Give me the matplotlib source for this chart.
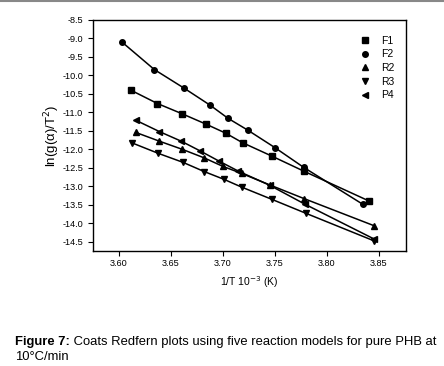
import matplotlib
matplotlib.use('Agg')
import matplotlib.pyplot as plt

plt.rcParams['font.family'] = ['Liberation Sans', 'DejaVu Sans']
plt.rcParams['axes.unicode_minus'] = False

# dados
x_f1 = [3.6115, 3.637, 3.661, 3.684, 3.7026, 3.719, 3.747, 3.778, 3.841]
y_f1 = [-10.40, -10.76, -11.04, -11.32, -11.56, -11.82, -12.18, -12.59, -13.40]

x_f2 = [3.603, 3.634, 3.663, 3.688, 3.705, 3.724, 3.750, 3.778, 3.835]
y_f2 = [-9.10, -9.84, -10.35, -10.81, -11.16, -11.48, -11.95, -12.49, -13.49]

x_r2 = [3.616, 3.639, 3.661, 3.682, 3.700, 3.718, 3.745, 3.778, 3.846]
y_r2 = [-11.54, -11.78, -12.00, -12.23, -12.46, -12.65, -12.96, -13.33, -14.07]

x_r3 = [3.613, 3.638, 3.6615, 3.682, 3.701, 3.718, 3.747, 3.780, 3.846]
y_r3 = [-11.83, -12.11, -12.35, -12.60, -12.81, -13.02, -13.35, -13.73, -14.48]

x_p4 = [3.616, 3.639, 3.660, 3.678, 3.6965, 3.715, 3.745, 3.7795, 3.846]
y_p4 = [-11.21, -11.52, -11.78, -12.04, -12.32, -12.59, -12.97, -13.49, -14.43]

series = [('F1', 's', x_f1, y_f1), ('F2', 'o', x_f2, y_f2), ('R2', '^', x_r2, y_r2),
          ('R3', 'v', x_r3, y_r3), ('P4', '<', x_p4, y_p4)]

fig = plt.figure(figsize=(4.44, 3.66), dpi=100)
ax = fig.add_axes([0.2095, 0.3142, 0.704, 0.6312])

for nome, m, xs, ys in series:
    ax.plot(xs, ys, color='black', lw=1.1)
    ax.plot(xs, ys, ls='none', marker=m, color='black', ms=4, label=nome)

ax.set_xlim(3.575, 3.876)
ax.set_ylim(-14.75, -8.5)
ax.set_xticks([3.60, 3.65, 3.70, 3.75, 3.80, 3.85])
ax.set_xticklabels(['3.60', '3.65', '3.70', '3.75', '3.80', '3.85'])
ax.set_yticks([-8.5 - 0.5 * i for i in range(13)])
ax.tick_params(labelsize=6.6, length=3.5, width=0.8, direction='out')
ax.tick_params(axis='x', pad=2.5)
ax.tick_params(axis='y', pad=3.5)
for s in ax.spines.values():
    s.set_linewidth(1.0)

ax.set_xlabel('1/T 10$^{-3}$ (K)', fontsize=7.5)
ax.set_ylabel('ln(g(α)/T$^2$)', fontsize=9.5)
ax.xaxis.set_label_coords(0.5, -0.10)
ax.yaxis.set_label_coords(-0.099, 0.5)

ax.legend(loc='upper right', frameon=False, fontsize=7.5, handletextpad=1.0,
          labelspacing=0.35, borderaxespad=0.0, bbox_to_anchor=(0.978, 0.95),
          handlelength=1.2)

# borda cinza no topo
fig.add_artist(plt.Line2D([0, 1], [0.998, 0.998], color='#888888', lw=1.5))

fs = 9.4
t = fig.text(15 / 444, 1 - 345 / 366, 'Figure 7:', fontsize=fs, fontweight='bold')
fig.canvas.draw()
ax.annotate(' Coats Redfern plots using five reaction models for pure PHB at',
            xy=(1, 0), xycoords=t, fontsize=fs, va='bottom', ha='left')
fig.text(15 / 444, 1 - 360 / 366, '10°C/min', fontsize=fs)

fig.savefig('out.png', dpi=100)
